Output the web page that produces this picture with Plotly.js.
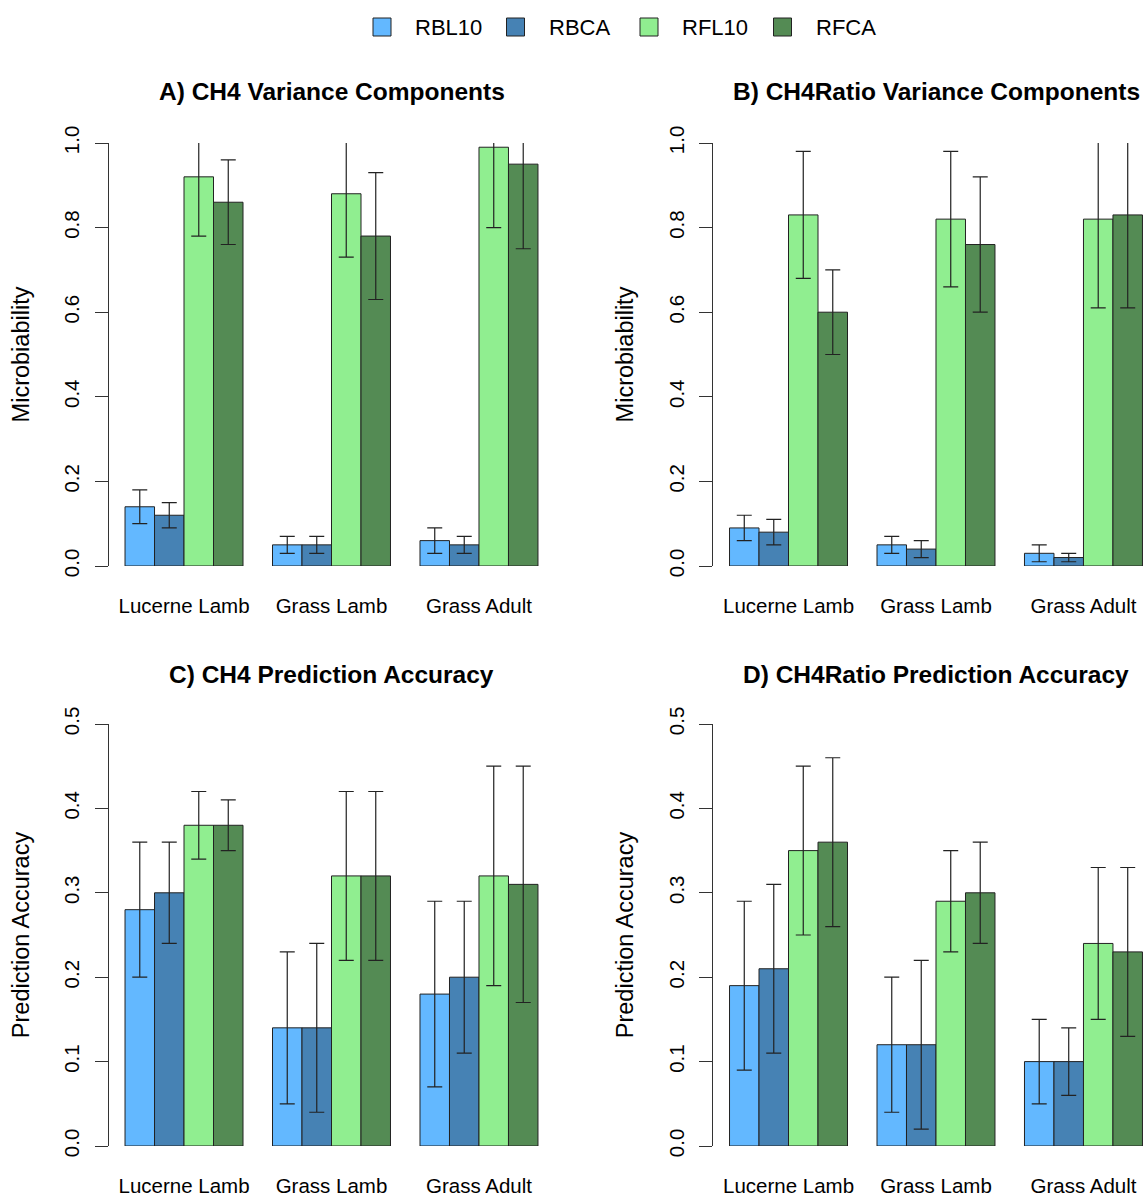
<!DOCTYPE html>
<html>
<head>
<meta charset="utf-8">
<script src="https://cdn.plot.ly/plotly-3.0.1.min.js"></script>
<style>html,body{margin:0;padding:0;background:#fff;}#chart{width:1146px;height:1196px;}</style>
</head>
<body>
<div id="chart"></div>
<script>
// ---------------- data ----------------
const categories = ['Lucerne Lamb', 'Grass Lamb', 'Grass Adult'];
const seriesNames = ['RBL10', 'RBCA', 'RFL10', 'RFCA'];
const seriesColors = ['#63B8FF', '#4682B4', '#90EE90', '#548B54'];
const panelTitles = ['A) CH4 Variance Components', 'B) CH4Ratio Variance Components',
                     'C) CH4 Prediction Accuracy', 'D) CH4Ratio Prediction Accuracy'];
const yTitles = ['Microbiability', 'Microbiability', 'Prediction Accuracy', 'Prediction Accuracy'];

// rows = series (RBL10, RBCA, RFL10, RFCA), columns = categories
const aValue = [[0.14, 0.05, 0.06], [0.12, 0.05, 0.05], [0.92, 0.88, 0.99], [0.86, 0.78, 0.95]];
const aLower = [[0.10, 0.03, 0.03], [0.09, 0.03, 0.03], [0.78, 0.73, 0.80], [0.76, 0.63, 0.75]];
const aUpper = [[0.18, 0.07, 0.09], [0.15, 0.07, 0.07], [1.05, 1.05, 1.05], [0.96, 0.93, 1.05]];

const bValue = [[0.09, 0.05, 0.03], [0.08, 0.04, 0.02], [0.83, 0.82, 0.82], [0.60, 0.76, 0.83]];
const bLower = [[0.06, 0.03, 0.01], [0.05, 0.02, 0.01], [0.68, 0.66, 0.61], [0.50, 0.60, 0.61]];
const bUpper = [[0.12, 0.07, 0.05], [0.11, 0.06, 0.03], [0.98, 0.98, 1.05], [0.70, 0.92, 1.05]];

const cValue = [[0.28, 0.14, 0.18], [0.30, 0.14, 0.20], [0.38, 0.32, 0.32], [0.38, 0.32, 0.31]];
const cLower = [[0.20, 0.05, 0.07], [0.24, 0.04, 0.11], [0.34, 0.22, 0.19], [0.35, 0.22, 0.17]];
const cUpper = [[0.36, 0.23, 0.29], [0.36, 0.24, 0.29], [0.42, 0.42, 0.45], [0.41, 0.42, 0.45]];

const dValue = [[0.19, 0.12, 0.10], [0.21, 0.12, 0.10], [0.35, 0.29, 0.24], [0.36, 0.30, 0.23]];
const dLower = [[0.09, 0.04, 0.05], [0.11, 0.02, 0.06], [0.25, 0.23, 0.15], [0.26, 0.24, 0.13]];
const dUpper = [[0.29, 0.20, 0.15], [0.31, 0.22, 0.14], [0.45, 0.35, 0.33], [0.46, 0.36, 0.33]];

const yMax = [1.0, 1.0, 0.5, 0.5];
const yStep = [0.2, 0.2, 0.1, 0.1];

// ---------------- layout geometry (px) ----------------
const W = 1146, H = 1196;
const FONT = 'Liberation Sans, Arial, Helvetica, sans-serif';
const panels = [
  {v: aValue, lo: aLower, hi: aUpper, x0: 108.5, x1: 554.5, y0: 143, y1: 566, xr: [-0.512, 2.512]},
  {v: bValue, lo: bLower, hi: bUpper, x0: 713, x1: 1146, y0: 143, y1: 566, xr: [-0.512, 2.424]},
  {v: cValue, lo: cLower, hi: cUpper, x0: 108.5, x1: 554.5, y0: 724, y1: 1146, xr: [-0.512, 2.512]},
  {v: dValue, lo: dLower, hi: dUpper, x0: 713, x1: 1146, y0: 724, y1: 1146, xr: [-0.512, 2.424]}
];
const titleCenters = [331.5, 936, 331.5, 936];
const titleY = [92, 92, 674, 674];

const traces = [];
const layout = {
  width: W, height: H,
  margin: {l: 0, r: 0, t: 0, b: 0},
  paper_bgcolor: '#ffffff', plot_bgcolor: '#ffffff',
  barmode: 'group', bargap: 0.2, bargroupgap: 0,
  showlegend: false,
  font: {family: FONT, color: '#000'},
  annotations: [], shapes: []
};

panels.forEach((p, k) => {
  const ax = k === 0 ? '' : String(k + 1);
  seriesNames.forEach((name, s) => {
    traces.push({
      type: 'bar', name: name,
      x: categories, y: p.v[s],
      xaxis: 'x' + ax, yaxis: 'y' + ax,
      marker: {color: seriesColors[s], line: {color: '#222', width: 1}},
      error_y: {
        type: 'data', symmetric: false,
        array: p.hi[s].map((h, i) => h - p.v[s][i]),
        arrayminus: p.lo[s].map((l, i) => p.v[s][i] - l),
        color: '#222', thickness: 1.2, width: 7.5
      },
      showlegend: false
    });
  });
  layout['xaxis' + ax] = {
    domain: [p.x0 / W, p.x1 / W], anchor: 'y' + ax,
    type: 'category', range: p.xr,
    showline: false, ticks: '', showgrid: false, zeroline: false,
    tickfont: {size: 20.5, family: FONT, color: '#000'},
    ticklabelstandoff: 25
  };
  layout['yaxis' + ax] = {
    domain: [1 - p.y1 / H, 1 - p.y0 / H], anchor: 'x' + ax,
    range: [0, yMax[k]], dtick: yStep[k], tick0: 0, tickformat: '.1f',
    showline: true, linecolor: '#333', linewidth: 1,
    ticks: 'outside', ticklen: 13, tickwidth: 1, tickcolor: '#333',
    tickangle: -90, showgrid: false, zeroline: false,
    tickfont: {size: 20.5, family: FONT, color: '#000'},
    ticklabelstandoff: 7,
    title: {text: yTitles[k], font: {size: 23.5, family: FONT, color: '#000'}, standoff: 24}
  };
  layout.annotations.push({
    text: '<b>' + panelTitles[k] + '</b>', xref: 'paper', yref: 'paper',
    x: titleCenters[k] / W, y: 1 - titleY[k] / H, xanchor: 'center', yanchor: 'middle',
    showarrow: false, font: {size: 24.5, family: FONT, color: '#000'}
  });
});

// legend (drawn at top, single row)
const legStart = 373, legStep = 133.5, legBox = 18, legMidY = 27;
seriesNames.forEach((name, s) => {
  const x = legStart + s * legStep;
  layout.shapes.push({
    type: 'rect', xref: 'paper', yref: 'paper',
    x0: x / W, x1: (x + legBox) / W,
    y0: 1 - (legMidY + legBox / 2) / H, y1: 1 - (legMidY - legBox / 2) / H,
    fillcolor: seriesColors[s], line: {color: '#222', width: 1}
  });
  layout.annotations.push({
    text: name, xref: 'paper', yref: 'paper',
    x: (x + 40) / W, y: 1 - legMidY / H, xanchor: 'left', yanchor: 'middle',
    showarrow: false, font: {size: 22, family: FONT, color: '#000'}
  });
});

Plotly.newPlot('chart', traces, layout, {staticPlot: true, displayModeBar: false});
</script>
</body>
</html>
